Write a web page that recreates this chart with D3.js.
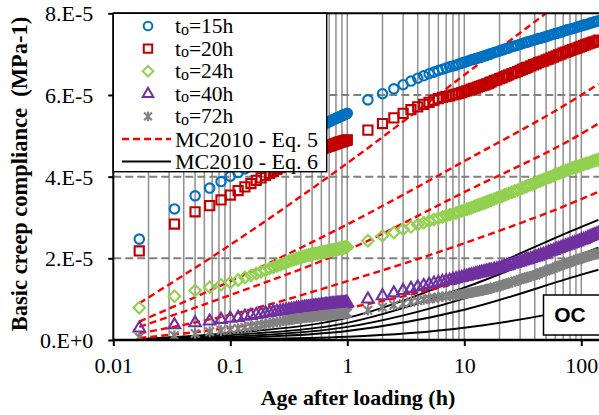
<!DOCTYPE html>
<html>
<head>
<meta charset="utf-8">
<script src="https://cdn.jsdelivr.net/npm/d3@7"></script>
<style>
  body { margin: 0; background: #fff; }
  svg { display: block; }
  text { font-family: "Liberation Serif", "Times New Roman", serif; }
</style>
</head>
<body>
<svg id="chart" width="599" height="415"></svg>
<script>
// ---------- data (compliance in 1e-5 MPa-1) ----------
// measurement times: every minute during the first hour, then hours
const minutes = [1, 2, 3, 4, 5, 6, 7, 8, 9, 10, 11, 12, 13, 14, 15, 16, 17, 18, 19, 20,
  21, 22, 23, 24, 25, 26, 27, 28, 29, 30, 31, 32, 33, 34, 35, 36, 37, 38, 39, 40,
  41, 42, 43, 44, 45, 46, 47, 48, 49, 50, 51, 52, 53, 54, 55, 56, 57, 58, 59, 60];
const hours = [1.5, 2, 2.5, 3, 3.5, 4, 4.5, 5, 5.5, 6, 6.5, 7, 7.5, 8, 8.5, 9, 9.5, 10,
  10.5, 11, 11.5, 12, 12.5, 13, 13.5, 14, 14.5, 15, 15.5, 16, 16.5, 17, 18, 19, 20, 21,
  22, 23, 24, 25.5, 27, 28.5, 30, 31.5, 33, 34, 35, 37, 39, 41, 43, 45, 47.5, 50, 52.5,
  55, 58, 61, 64, 67, 70, 73.5, 77, 80.5, 84, 88, 92, 96, 100, 104.5, 109, 114, 119,
  124, 129, 134.5, 140];

const j15 = [
  2.47, 3.21, 3.53, 3.72, 3.88, 4.01, 4.10, 4.19, 4.27, 4.35, 4.42, 4.48, 4.54, 4.59, 4.64,
  4.69, 4.73, 4.77, 4.81, 4.85, 4.88, 4.91, 4.94, 4.97, 5.00, 5.03, 5.05, 5.07, 5.10, 5.12,
  5.14, 5.16, 5.19, 5.21, 5.23, 5.25, 5.27, 5.28, 5.30, 5.32, 5.33, 5.35, 5.36, 5.38, 5.39,
  5.40, 5.41, 5.43, 5.44, 5.45, 5.46, 5.47, 5.48, 5.49, 5.50, 5.51, 5.52, 5.53, 5.54, 5.55,
  5.88, 6.03, 6.15, 6.25, 6.34, 6.41, 6.47, 6.52, 6.56, 6.60, 6.63, 6.66, 6.69, 6.71,
  6.73, 6.76, 6.78, 6.80, 6.82, 6.84, 6.86, 6.87, 6.89, 6.90, 6.92, 6.93,
  6.95, 6.96, 6.97, 6.99, 7.00, 7.01, 7.04, 7.06, 7.08, 7.10, 7.12, 7.14, 7.15,
  7.18, 7.20, 7.22, 7.24, 7.26, 7.28, 7.29, 7.30, 7.32, 7.34, 7.36, 7.38, 7.39,
  7.41, 7.43, 7.45, 7.47, 7.49, 7.51, 7.52, 7.54, 7.56, 7.58, 7.60, 7.61, 7.63,
  7.64, 7.66, 7.68, 7.69, 7.71, 7.72, 7.74, 7.76, 7.77, 7.79, 7.80, 7.82];
const j20 = [
  2.18, 2.84, 3.14, 3.29, 3.43, 3.55, 3.66, 3.75, 3.83, 3.91, 3.97, 4.03, 4.08, 4.13, 4.18,
  4.22, 4.26, 4.29, 4.33, 4.36, 4.39, 4.42, 4.45, 4.47, 4.50, 4.52, 4.54, 4.56, 4.58, 4.60,
  4.61, 4.63, 4.64, 4.66, 4.67, 4.68, 4.69, 4.71, 4.72, 4.73, 4.74, 4.75, 4.76, 4.77, 4.78,
  4.79, 4.80, 4.81, 4.82, 4.83, 4.84, 4.85, 4.85, 4.86, 4.87, 4.87, 4.88, 4.89, 4.89, 4.90,
  5.14, 5.30, 5.44, 5.55, 5.64, 5.71, 5.77, 5.82, 5.87, 5.91, 5.94, 5.96, 5.98, 6.00,
  6.02, 6.04, 6.06, 6.08, 6.10, 6.12, 6.14, 6.16, 6.17, 6.19, 6.21, 6.22,
  6.24, 6.25, 6.27, 6.28, 6.30, 6.32, 6.35, 6.37, 6.40, 6.42, 6.45, 6.47, 6.49,
  6.52, 6.55, 6.57, 6.60, 6.63, 6.65, 6.67, 6.68, 6.71, 6.74, 6.76, 6.79, 6.81,
  6.83, 6.86, 6.88, 6.91, 6.93, 6.96, 6.98, 7.00, 7.03, 7.05, 7.07, 7.09, 7.11,
  7.13, 7.15, 7.17, 7.19, 7.21, 7.23, 7.25, 7.27, 7.29, 7.30, 7.32, 7.34];
const j24 = [
  0.79, 1.07, 1.21, 1.29, 1.35, 1.41, 1.47, 1.53, 1.58, 1.63, 1.67, 1.71, 1.75, 1.78, 1.81,
  1.84, 1.87, 1.90, 1.93, 1.95, 1.97, 1.99, 2.01, 2.02, 2.04, 2.05, 2.07, 2.08, 2.09, 2.10,
  2.11, 2.12, 2.12, 2.13, 2.14, 2.14, 2.15, 2.16, 2.16, 2.17, 2.18, 2.18, 2.19, 2.20, 2.20,
  2.21, 2.21, 2.22, 2.22, 2.23, 2.24, 2.24, 2.25, 2.25, 2.26, 2.26, 2.27, 2.27, 2.28, 2.28,
  2.43, 2.55, 2.63, 2.71, 2.77, 2.82, 2.87, 2.91, 2.95, 2.98, 3.01, 3.04, 3.07, 3.09,
  3.11, 3.14, 3.16, 3.18, 3.20, 3.22, 3.24, 3.26, 3.28, 3.30, 3.31, 3.33,
  3.35, 3.36, 3.38, 3.39, 3.41, 3.42, 3.45, 3.48, 3.50, 3.52, 3.55, 3.57, 3.59,
  3.62, 3.65, 3.67, 3.70, 3.72, 3.75, 3.76, 3.78, 3.80, 3.83, 3.85, 3.88, 3.90,
  3.93, 3.96, 3.98, 4.00, 4.03, 4.06, 4.08, 4.10, 4.13, 4.15, 4.17, 4.19, 4.21,
  4.23, 4.25, 4.26, 4.28, 4.30, 4.32, 4.33, 4.35, 4.37, 4.39, 4.40, 4.42];
const j40 = [
  0.29, 0.37, 0.42, 0.46, 0.50, 0.53, 0.55, 0.58, 0.60, 0.62, 0.64, 0.66, 0.67, 0.69, 0.70,
  0.71, 0.72, 0.73, 0.74, 0.75, 0.76, 0.77, 0.78, 0.78, 0.79, 0.80, 0.80, 0.81, 0.81, 0.82,
  0.82, 0.83, 0.83, 0.84, 0.84, 0.85, 0.85, 0.85, 0.86, 0.86, 0.86, 0.87, 0.87, 0.87, 0.88,
  0.88, 0.88, 0.88, 0.89, 0.89, 0.89, 0.89, 0.90, 0.90, 0.90, 0.90, 0.90, 0.91, 0.91, 0.91,
  1.00, 1.08, 1.15, 1.21, 1.26, 1.30, 1.33, 1.36, 1.39, 1.41, 1.43, 1.45, 1.46, 1.48,
  1.50, 1.52, 1.53, 1.55, 1.56, 1.58, 1.59, 1.60, 1.62, 1.63, 1.64, 1.65,
  1.66, 1.67, 1.68, 1.69, 1.70, 1.71, 1.73, 1.74, 1.76, 1.78, 1.80, 1.81, 1.83,
  1.85, 1.87, 1.89, 1.91, 1.93, 1.95, 1.96, 1.97, 1.99, 2.01, 2.03, 2.05, 2.08,
  2.10, 2.12, 2.15, 2.17, 2.19, 2.22, 2.24, 2.26, 2.28, 2.30, 2.32, 2.34, 2.36,
  2.38, 2.40, 2.42, 2.44, 2.46, 2.48, 2.51, 2.53, 2.55, 2.57, 2.59, 2.61];
const j72 = [
  0.07, 0.11, 0.16, 0.20, 0.23, 0.26, 0.28, 0.31, 0.33, 0.35, 0.37, 0.39, 0.41, 0.42, 0.44,
  0.45, 0.47, 0.48, 0.49, 0.50, 0.51, 0.52, 0.53, 0.53, 0.54, 0.55, 0.55, 0.56, 0.56, 0.57,
  0.57, 0.58, 0.58, 0.59, 0.59, 0.60, 0.60, 0.60, 0.61, 0.61, 0.61, 0.62, 0.62, 0.62, 0.63,
  0.63, 0.63, 0.63, 0.64, 0.64, 0.64, 0.64, 0.65, 0.65, 0.65, 0.65, 0.65, 0.66, 0.66, 0.66,
  0.73, 0.80, 0.85, 0.89, 0.93, 0.96, 0.99, 1.01, 1.03, 1.05, 1.06, 1.07, 1.08, 1.09,
  1.10, 1.11, 1.12, 1.13, 1.14, 1.15, 1.16, 1.17, 1.18, 1.19, 1.20, 1.21,
  1.22, 1.23, 1.24, 1.25, 1.26, 1.27, 1.29, 1.30, 1.32, 1.34, 1.36, 1.38, 1.39,
  1.42, 1.44, 1.46, 1.48, 1.50, 1.52, 1.53, 1.54, 1.56, 1.58, 1.60, 1.62, 1.65,
  1.67, 1.69, 1.72, 1.74, 1.76, 1.79, 1.81, 1.83, 1.85, 1.87, 1.89, 1.91, 1.93,
  1.95, 1.97, 1.98, 2.00, 2.02, 2.03, 2.05, 2.07, 2.08, 2.10, 2.11, 2.13];

// model curves, evaluated at these ages (h)
const modelTimes = [1 / 60, 0.1, 1, 10, 100, 140];
const eq5 = [
  [0.90, 2.33, 4.33, 6.49, 8.67, 9.00],
  [0.45, 1.44, 2.83, 4.38, 6.00, 6.27],
  [0.32, 1.10, 2.20, 3.62, 5.05, 5.30],
  [0.16, 0.62, 1.44, 2.37, 3.45, 3.63],
  [0.05, 0.30, 0.78, 1.45, 2.45, 2.65]
];
const eq6 = [
  [0.02, 0.17, 0.54, 1.54, 2.77, 2.94],
  [0.01, 0.12, 0.42, 1.28, 2.45, 2.62],
  [0.01, 0.08, 0.32, 1.02, 2.10, 2.26],
  [0.00, 0.05, 0.22, 0.74, 1.60, 1.72],
  [0.00, 0.02, 0.08, 0.30, 0.80, 0.90]
];

const loadAges = ['15h', '20h', '24h', '40h', '72h'];
const yTicks = [0, 2, 4, 6, 8];
const yTickLabels = ['0.E+0', '2.E-5', '4.E-5', '6.E-5', '8.E-5'];
const xTicks = [0.01, 0.1, 1, 10, 100];
const xTickLabels = ['0.01', '0.1', '1', '10', '100'];

// ---------- layout ----------
const W = 599, H = 415;
const plot = { left: 113.3, top: 13.3, bottom: 340 };
const decade = 117;

const x = d3.scaleLog()
  .domain([0.01, 140])
  .range([plot.left, plot.left + decade * Math.log10(140 / 0.01)]);
const y = d3.scaleLinear().domain([0, 8]).range([plot.bottom, plot.top]);

const svg = d3.select('#chart');

svg.append('defs').append('clipPath').attr('id', 'clip')
  .append('rect')
  .attr('x', plot.left).attr('y', plot.top)
  .attr('width', W - plot.left).attr('height', plot.bottom - plot.top);

/* ---------- gridlines ---------- */
const grid = svg.append('g');
grid.selectAll('line.v')
  .data(x.ticks().filter(t => t > 0.0101))
  .join('line')
  .attr('x1', d => x(d)).attr('x2', d => x(d))
  .attr('y1', plot.top).attr('y2', plot.bottom)
  .attr('stroke', '#8f8f8f').attr('stroke-width', 1.5);

grid.selectAll('line.h')
  .data(yTicks.filter(v => v > 0 && v < 8))
  .join('line')
  .attr('x1', plot.left).attr('x2', W)
  .attr('y1', d => y(d)).attr('y2', d => y(d))
  .attr('stroke', '#808080').attr('stroke-width', 2)
  .attr('stroke-dasharray', '8,4');

/* ---------- model lines ---------- */
const lineGen = d3.line()
  .x(d => x(d[0])).y(d => y(d[1]))
  .curve(d3.curveMonotoneX);

const lines = svg.append('g').attr('clip-path', 'url(#clip)');
eq6.forEach(vals => {
  lines.append('path')
    .attr('d', lineGen(vals.map((v, i) => [modelTimes[i], v])))
    .attr('fill', 'none').attr('stroke', '#000').attr('stroke-width', 1.9);
});
eq5.forEach(vals => {
  lines.append('path')
    .attr('d', lineGen(vals.map((v, i) => [modelTimes[i], v])))
    .attr('fill', 'none').attr('stroke', '#ff0000').attr('stroke-width', 2.4)
    .attr('stroke-dasharray', '7,4');
});

/* ---------- markers ---------- */
const diamond = {
  draw(ctx, size) {
    const r = Math.sqrt(size / 2);
    ctx.moveTo(0, -r); ctx.lineTo(r, 0); ctx.lineTo(0, r); ctx.lineTo(-r, 0); ctx.closePath();
  }
};
const star = {
  draw(ctx, size) {
    const r = Math.sqrt(size) / 2;
    ctx.moveTo(-r, -r); ctx.lineTo(r, r);
    ctx.moveTo(-r, r); ctx.lineTo(r, -r);
    ctx.moveTo(0, -r * 1.25); ctx.lineTo(0, r * 1.25);
  }
};

const times = minutes.map(m => m / 60).concat(hours);
const series = [
  { values: j15, color: '#0070c0', type: d3.symbolCircle, size: 70 },
  { values: j20, color: '#c00000', type: d3.symbolSquare, size: 84 },
  { values: j24, color: '#92d050', type: diamond, size: 66 },
  { values: j40, color: '#7030a0', type: d3.symbolTriangle, size: 58 },
  { values: j72, color: '#808080', type: star, size: 72 }
];

const marks = svg.append('g').attr('clip-path', 'url(#clip)');
series.forEach(s => {
  const sym = d3.symbol().type(s.type).size(s.size);
  marks.append('g')
    .selectAll('path')
    .data(s.values.map((v, i) => [times[i], v]))
    .join('path')
    .attr('transform', d => `translate(${x(d[0])},${y(d[1])})`)
    .attr('d', sym())
    .attr('fill', 'none')
    .attr('stroke', s.color)
    .attr('stroke-width', 2.1);
});

/* ---------- axes ---------- */
const yAxis = svg.append('g')
  .attr('transform', `translate(${plot.left},0)`)
  .call(d3.axisLeft(y).tickValues(yTicks)
    .tickFormat((d, i) => yTickLabels[i])
    .tickSize(5).tickSizeOuter(0).tickPadding(15));
yAxis.select('.domain').remove();
yAxis.selectAll('line').attr('stroke-width', 2);
yAxis.selectAll('text')
  .attr('font-size', 22).attr('fill', '#000').attr('dy', '0.34em');

const xAxis = svg.append('g')
  .attr('transform', `translate(0,${plot.bottom})`)
  .call(d3.axisBottom(x).tickValues(xTicks)
    .tickFormat((d, i) => xTickLabels[i])
    .tickSize(6).tickSizeOuter(0).tickPadding(11));
xAxis.select('.domain').remove();
xAxis.selectAll('line').attr('stroke-width', 2);
xAxis.selectAll('text')
  .attr('font-size', 22).attr('fill', '#000');

svg.append('line')
  .attr('x1', plot.left).attr('x2', plot.left)
  .attr('y1', plot.top).attr('y2', plot.bottom + 1)
  .attr('stroke', '#000').attr('stroke-width', 2);
svg.append('line')
  .attr('x1', plot.left - 1).attr('x2', W)
  .attr('y1', plot.bottom).attr('y2', plot.bottom)
  .attr('stroke', '#000').attr('stroke-width', 2.5);
svg.append('line')
  .attr('x1', plot.left).attr('x2', W)
  .attr('y1', plot.top).attr('y2', plot.top)
  .attr('stroke', '#000').attr('stroke-width', 2);

/* ---------- axis titles ---------- */
svg.append('text')
  .attr('x', 358).attr('y', 405)
  .attr('text-anchor', 'middle')
  .attr('font-size', 22).attr('font-weight', 'bold')
  .text('Age after loading (h)');

svg.append('text')
  .attr('transform', 'translate(27,174) rotate(-90)')
  .attr('text-anchor', 'middle')
  .attr('font-size', 22.5).attr('font-weight', 'bold')
  .style('white-space', 'pre')
  .text('Basic creep compliance  (MPa-1)');

/* ---------- legend ---------- */
const legend = svg.append('g');
legend.append('rect')
  .attr('x', plot.left).attr('y', plot.top)
  .attr('width', 213.4).attr('height', 158.4)
  .attr('fill', '#fff').attr('stroke', '#000').attr('stroke-width', 1.4);

const rowY = i => 26 + i * 22.6;
series.forEach((s, i) => {
  legend.append('path')
    .attr('transform', `translate(148,${rowY(i)})`)
    .attr('d', d3.symbol().type(s.type).size(s.size * 0.85)())
    .attr('fill', 'none').attr('stroke', s.color).attr('stroke-width', 2);
  const t = legend.append('text')
    .attr('x', 175).attr('y', rowY(i) + 7)
    .attr('font-size', 21.5);
  t.append('tspan').text('t');
  t.append('tspan').attr('font-size', 16).attr('dy', 1.5).text('o');
  t.append('tspan').attr('dy', -1.5).text('=' + loadAges[i]);
});

const modelLegend = [
  { label: 'MC2010 - Eq. 5', color: '#ff0000', dash: '7,4', width: 2.4 },
  { label: 'MC2010 - Eq. 6', color: '#000', dash: null, width: 2 }
];
modelLegend.forEach((m, k) => {
  const yy = rowY(5 + k);
  legend.append('line')
    .attr('x1', 122).attr('x2', 171).attr('y1', yy).attr('y2', yy)
    .attr('stroke', m.color).attr('stroke-width', m.width)
    .attr('stroke-dasharray', m.dash);
  legend.append('text')
    .attr('x', 175).attr('y', yy + 7.5)
    .attr('font-size', 22)
    .style('white-space', 'pre')
    .text(m.label);
});

/* ---------- OC tag ---------- */
svg.append('rect')
  .attr('x', 543.5).attr('y', 295).attr('width', 60).attr('height', 40)
  .attr('fill', '#fff').attr('stroke', '#000').attr('stroke-width', 1.5);
svg.append('text')
  .attr('x', 570).attr('y', 322)
  .attr('text-anchor', 'middle')
  .style('font-family', '"Liberation Sans", Arial, sans-serif')
  .attr('font-size', 21).attr('font-weight', 'bold')
  .text('OC');
</script>
</body>
</html>
